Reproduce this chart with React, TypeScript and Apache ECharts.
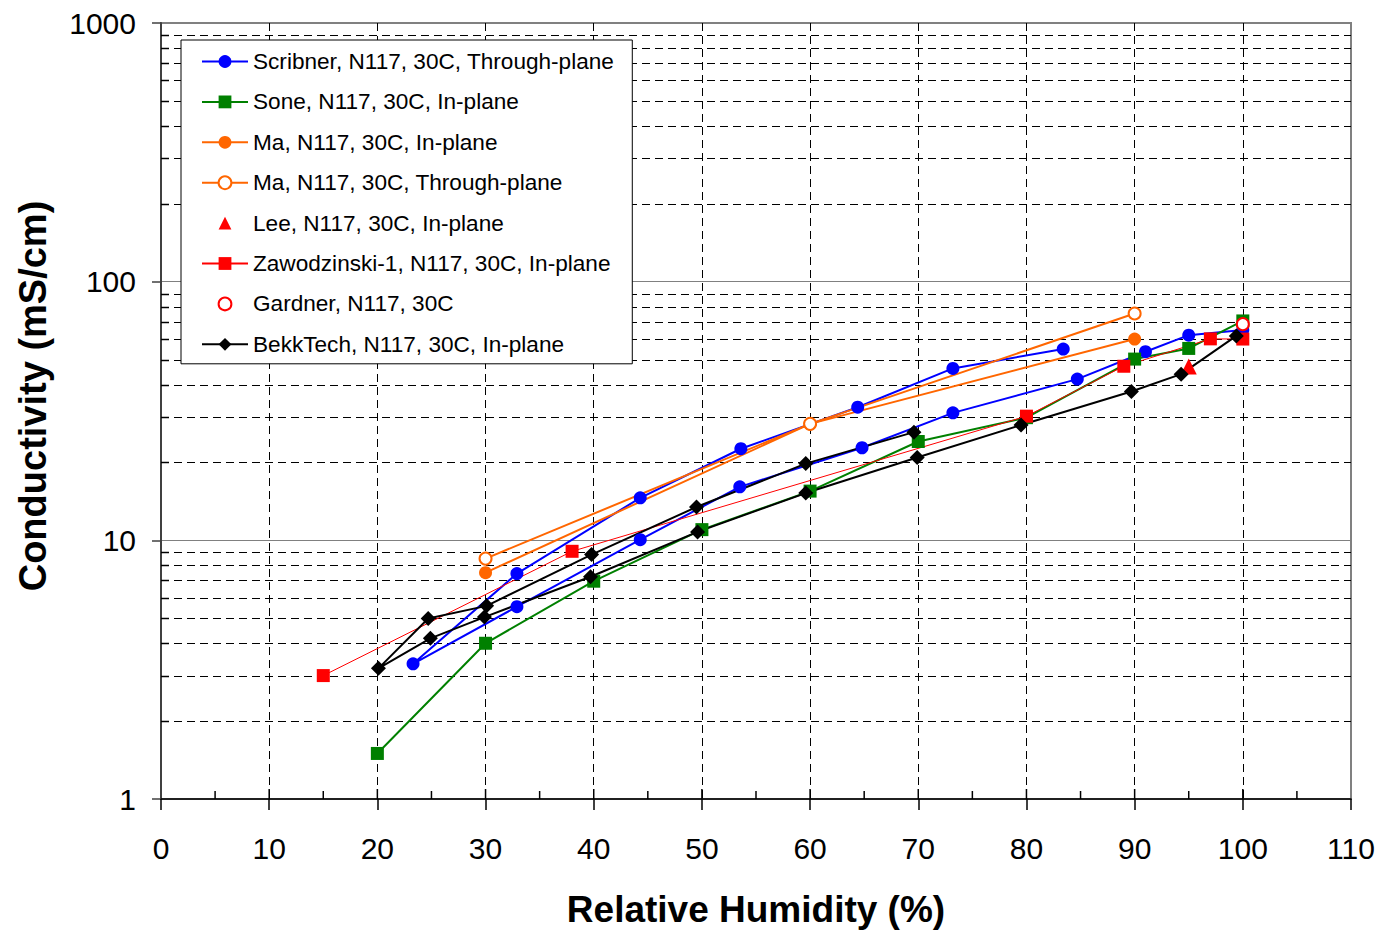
import React, { useEffect, useRef } from 'react';
import * as echarts from 'echarts';

const FONT = '"Liberation Sans", Arial, Helvetica, sans-serif';

// ---- data (relative humidity %, conductivity mS/cm) ----
const scribnerRH = [83.4, 73.2, 64.4, 53.6, 44.3, 32.9, 23.3, 32.9, 44.3, 53.5, 64.8, 73.2, 84.7, 91.0, 95.0, 100];
const scribnerSigma = [54.9, 46.2, 32.7, 22.6, 14.6, 7.44, 3.33, 5.54, 10.06, 16.1, 22.8, 31.1, 42.0, 53.6, 62.1, 65];

const soneRH = [20, 30, 40, 50, 60, 70, 80, 90, 95, 100];
const soneSigma = [1.5, 4.0, 6.95, 11.0, 15.5, 24.1, 29.8, 50.2, 55.2, 70.5];

const maInRH = [30, 60, 90];
const maInSigma = [7.5, 28.2, 60];

const maThroughRH = [30, 60, 90];
const maThroughSigma = [8.5, 28.2, 75.3];

const leeRH = [95];
const leeSigma = [47];

const zawRH = [15, 38, 80, 89, 97, 100];
const zawSigma = [3.0, 9.07, 30.2, 47.1, 60.1, 60];

const gardnerRH = [100];
const gardnerSigma = [68.5];

const bekkRH = [69.6, 59.6, 49.5, 39.8, 30.1, 24.7, 20.1, 24.9, 29.9, 39.7, 49.6, 59.6, 69.9, 79.5, 89.7, 94.3, 99.4];
const bekkSigma = [26.2, 19.8, 13.45, 8.81, 5.58, 4.99, 3.2, 4.18, 5.05, 7.23, 10.78, 15.23, 20.9, 27.9, 37.6, 43.9, 61.7];

const seriesNames = [
  'Scribner, N117, 30C, Through-plane',
  'Sone, N117, 30C, In-plane',
  'Ma, N117, 30C, In-plane',
  'Ma, N117, 30C, Through-plane',
  'Lee, N117, 30C, In-plane',
  'Zawodzinski-1, N117, 30C, In-plane',
  'Gardner, N117, 30C',
  'BekkTech, N117, 30C, In-plane',
];

// ---- axis ticks ----
const yTickLabels = ['1', '10', '100', '1000'];
const yMinorTicks = [2, 3, 4, 5, 6, 7, 8, 9, 20, 30, 40, 50, 60, 70, 80, 90, 200, 300, 400, 500, 600, 700, 800, 900];
const xInnerTicks = [5, 10, 15, 20, 25, 30, 35, 40, 45, 50, 55, 60, 65, 70, 75, 80, 85, 90, 95, 100, 105];

const pairs = (xs: number[], ys: number[]) => xs.map((x, i) => [x, ys[i]]);

export default function App() {
  const ref = useRef<HTMLDivElement>(null);

  useEffect(() => {
    if (!ref.current) return;
    const chart = echarts.init(ref.current, null, { renderer: 'svg' });

    const lineSeries = (
      name: string,
      data: number[][],
      color: string,
      symbol: string,
      size: number,
      width: number,
      extra: any = {}
    ) => ({
      type: 'line',
      name,
      data,
      symbol,
      symbolSize: size,
      showSymbol: true,
      clip: false,
      lineStyle: { color, width },
      itemStyle: { color, borderWidth: symbol === 'emptyCircle' ? 2 : 0 },
      emphasis: { disabled: true },
      z: 3,
      ...extra,
    });

    const option: any = {
      animation: false,
      backgroundColor: '#fff',
      textStyle: { fontFamily: FONT },
      grid: {
        left: 161,
        top: 23,
        right: 31,
        bottom: 132,
        show: true,
        borderColor: '#808080',
        borderWidth: 2,
        backgroundColor: 'transparent',
      },
      legend: {
        data: seriesNames,
        orient: 'vertical',
        left: 181,
        top: 40,
        padding: [10, 18, 8, 20],
        itemGap: 17.4,
        itemWidth: 46,
        itemHeight: 16,
        backgroundColor: '#fff',
        borderColor: '#000',
        borderWidth: 1,
        selectedMode: false,
        textStyle: { fontFamily: FONT, fontSize: 22.6, color: '#000', lineHeight: 22 },
        z: 10,
      },
      xAxis: {
        type: 'value',
        min: 0,
        max: 110,
        interval: 10,
        name: 'Relative Humidity (%)',
        nameLocation: 'middle',
        nameGap: 92,
        nameTextStyle: { fontFamily: FONT, fontSize: 37, fontWeight: 'bold', color: '#000' },
        axisLine: { show: true, onZero: false, lineStyle: { color: '#000', width: 1.5 } },
        axisTick: { show: true, inside: false, length: 11, lineStyle: { color: '#000', width: 1.5 } },
        axisLabel: { fontFamily: FONT, fontSize: 30, color: '#000', margin: 34 },
        splitLine: {
          show: true,
          showMinLine: false,
          showMaxLine: false,
          lineStyle: { color: '#000', width: 1, type: [8, 5] },
        },
      },
      yAxis: {
        type: 'log',
        logBase: 10,
        min: 1,
        max: 1000,
        axisLine: { show: true, lineStyle: { color: '#404040', width: 2 } },
        axisTick: { show: true, inside: false, length: 9, lineStyle: { color: '#404040', width: 1.5 } },
        axisLabel: {
          fontFamily: FONT,
          fontSize: 30,
          color: '#000',
          margin: 25,
          formatter: (v: number) => {
            const idx = Math.round(Math.log10(v));
            return yTickLabels[idx] ?? String(Math.round(v));
          },
        },
        splitLine: { show: true, lineStyle: { color: '#808080', width: 1, type: 'solid' } },
      },
      graphic: [
        {
          type: 'text',
          x: 33,
          y: 396,
          rotation: Math.PI / 2,
          style: {
            text: 'Conductivity (mS/cm)',
            fontFamily: FONT,
            fontSize: 38,
            fontWeight: 'bold',
            fill: '#000',
            align: 'center',
            verticalAlign: 'middle',
            textAlign: 'center',
            textVerticalAlign: 'middle',
          },
        },
      ],
      series: [
        {
          type: 'custom',
          name: '_yMinorGrid',
          silent: true,
          z: 1,
          clip: false,
          data: yMinorTicks.map((v) => [0, v]),
          renderItem: (params: any, api: any) => {
            const p = api.coord([0, api.value(1)]);
            const cs = params.coordSys;
            const y = Math.round(p[1]) + 0.5;
            return {
              type: 'group',
              children: [
                {
                  type: 'line',
                  shape: { x1: cs.x, y1: y, x2: cs.x + cs.width, y2: y },
                  style: { stroke: '#000', lineWidth: 1, lineDash: [8, 5] },
                },
                {
                  type: 'line',
                  shape: { x1: cs.x, y1: y, x2: cs.x + 8, y2: y },
                  style: { stroke: '#000', lineWidth: 1.5 },
                },
              ],
            };
          },
        },
        {
          type: 'custom',
          name: '_xInnerTicks',
          silent: true,
          z: 1,
          clip: false,
          data: xInnerTicks.map((v) => [v, 1]),
          renderItem: (params: any, api: any) => {
            const v = api.value(0);
            const p = api.coord([v, 1]);
            const len = v % 10 === 0 ? 10 : 8;
            return {
              type: 'line',
              shape: { x1: p[0], y1: p[1], x2: p[0], y2: p[1] - len },
              style: { stroke: '#000', lineWidth: 1.5 },
            };
          },
        },
        lineSeries(seriesNames[0], pairs(scribnerRH, scribnerSigma), '#0000FF', 'circle', 13, 2),
        lineSeries(seriesNames[1], pairs(soneRH, soneSigma), '#008000', 'rect', 13, 2),
        lineSeries(seriesNames[2], pairs(maInRH, maInSigma), '#FF6600', 'circle', 13, 2),
        lineSeries(seriesNames[3], pairs(maThroughRH, maThroughSigma), '#FF6600', 'emptyCircle', 12, 2),
        lineSeries(seriesNames[4], pairs(leeRH, leeSigma), '#FF0000', 'triangle', 16, 0, {
          lineStyle: { color: '#FF0000', width: 0, opacity: 0 },
        }),
        lineSeries(seriesNames[5], pairs(zawRH, zawSigma), '#FF0000', 'rect', 13, 1),
        lineSeries(seriesNames[6], pairs(gardnerRH, gardnerSigma), '#FF0000', 'emptyCircle', 12, 0, {
          lineStyle: { color: '#FF0000', width: 0, opacity: 0 },
          itemStyle: { color: '#FF0000', borderWidth: 2.5 },
        }),
        lineSeries(seriesNames[7], pairs(bekkRH, bekkSigma), '#000000', 'diamond', 15, 2),
      ],
    };

    chart.setOption(option);
    return () => chart.dispose();
  }, []);

  return (
    <div
      ref={ref}
      style={{ position: 'absolute', left: 0, top: 0, width: 1382, height: 933, background: '#fff' }}
    />
  );
}
